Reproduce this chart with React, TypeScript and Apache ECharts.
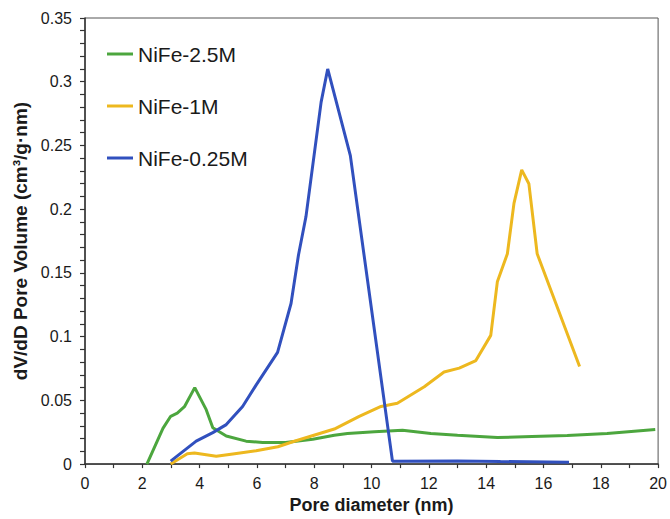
import React, { useEffect, useRef } from "react";
import * as echarts from "echarts";

const seriesNames = ["NiFe-2.5M", "NiFe-1M", "NiFe-0.25M"];

const greenX = [2.16, 2.72, 2.99, 3.22, 3.47, 3.83, 4.23, 4.46, 4.93, 5.62, 6.2, 7.0, 7.95, 8.7, 9.16, 10.1, 11.08, 12.07, 13.0, 14.39, 15.6, 16.83, 18.22, 19.9];
const greenY = [0, 0.028, 0.0375, 0.04, 0.045, 0.06, 0.0427, 0.0285, 0.022, 0.018, 0.017, 0.017, 0.0195, 0.0226, 0.024, 0.0254, 0.0265, 0.024, 0.0226, 0.0208, 0.0216, 0.0224, 0.024, 0.0272];

const yellowX = [2.99, 3.57, 3.82, 4.58, 5.16, 5.97, 6.73, 7.25, 8.7, 9.57, 10.33, 10.9, 11.84, 12.53, 13.06, 13.64, 14.16, 14.39, 14.74, 14.97, 15.24, 15.49, 15.78, 17.26];
const yellowY = [0, 0.0082, 0.0087, 0.0062, 0.008, 0.0105, 0.0136, 0.0175, 0.0275, 0.0375, 0.0452, 0.0478, 0.0607, 0.0722, 0.0753, 0.0812, 0.101, 0.143, 0.165, 0.2046, 0.2308, 0.22, 0.165, 0.0766];

const blueX = [2.99, 3.88, 4.46, 4.93, 5.5, 5.97, 6.72, 7.19, 7.45, 7.71, 8.24, 8.47, 9.26, 10.73, 13.0, 14.5, 16.89];
const blueY = [0.0023, 0.018, 0.0247, 0.031, 0.0452, 0.062, 0.0877, 0.126, 0.164, 0.194, 0.284, 0.31, 0.242, 0.0023, 0.0025, 0.002, 0.0015];

const colors = ["#4CA63E", "#EDB81F", "#3150BE"];

const xTicks = { min: 0, max: 20, interval: 2 };
const yTicks = { min: 0, max: 0.35, interval: 0.05 };

const FONT = "'Liberation Sans', Arial, sans-serif";
const TEXT = "#1a1a1a";

function pairs(xs: number[], ys: number[]) {
  return xs.map((x, i) => [x, ys[i]]);
}

export default function App() {
  const ref = useRef<HTMLDivElement>(null);
  useEffect(() => {
    if (!ref.current) return;
    const chart = echarts.init(ref.current, null, { renderer: "svg" });
    const data = [pairs(greenX, greenY), pairs(yellowX, yellowY), pairs(blueX, blueY)];
    chart.setOption({
      animation: false,
      color: colors,
      grid: {
        left: 85,
        right: 10,
        top: 18,
        bottom: 47,
        show: true,
        borderColor: "#555",
        borderWidth: 1,
      },
      legend: {
        orient: "vertical",
        left: 102,
        top: 37,
        itemWidth: 26,
        itemHeight: 3,
        itemGap: 28,
        icon: "rect",
        data: seriesNames,
        textStyle: { fontFamily: FONT, fontSize: 21, color: TEXT, lineHeight: 24 },
      },
      xAxis: {
        type: "value",
        min: xTicks.min,
        max: xTicks.max,
        interval: xTicks.interval,
        name: "Pore diameter (nm)",
        nameLocation: "middle",
        nameGap: 30,
        nameTextStyle: { fontFamily: FONT, fontSize: 18, fontWeight: "bold", color: TEXT },
        axisLine: { show: true, lineStyle: { color: "#333", width: 1.5 } },
        axisTick: { show: true, inside: false, length: 4, lineStyle: { color: "#333", width: 1.2 } },
        minorTick: { show: true, splitNumber: 2, length: 4, lineStyle: { color: "#333", width: 1.2 } },
        splitLine: { show: false },
        axisLabel: { fontFamily: FONT, fontSize: 16, color: TEXT, margin: 11 },
      },
      yAxis: {
        type: "value",
        min: yTicks.min,
        max: yTicks.max,
        interval: yTicks.interval,
        name: "dV/dD Pore Volume (cm³/g·nm)",
        nameLocation: "middle",
        nameGap: 53,
        nameTextStyle: { fontFamily: FONT, fontSize: 19, fontWeight: "bold", color: TEXT },
        axisLine: { show: true, lineStyle: { color: "#333", width: 1.5 } },
        axisTick: { show: true, inside: false, length: 5, lineStyle: { color: "#333", width: 1.2 } },
        minorTick: { show: true, splitNumber: 5, length: 5, lineStyle: { color: "#333", width: 1.2 } },
        splitLine: { show: false },
        axisLabel: { fontFamily: FONT, fontSize: 16, color: TEXT, margin: 13 },
      },
      series: seriesNames.map((name, i) => ({
        name,
        type: "line",
        data: data[i],
        showSymbol: false,
        symbol: "none",
        lineStyle: { width: 3, color: colors[i] },
        itemStyle: { color: colors[i] },
      })),
    });
    return () => chart.dispose();
  }, []);
  return (
    <div
      ref={ref}
      style={{ position: "fixed", left: 0, top: 0, width: 670, height: 519, background: "#fff" }}
    />
  );
}
